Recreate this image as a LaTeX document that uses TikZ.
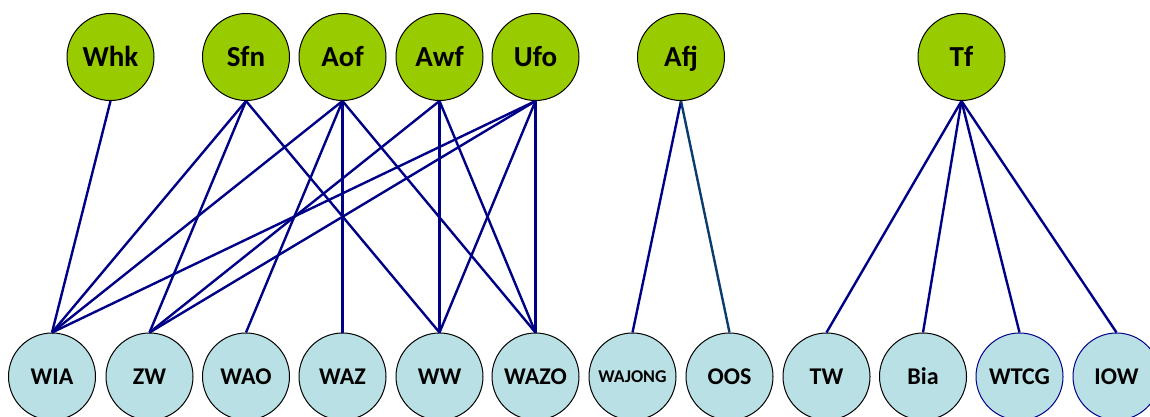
\documentclass[tikz,border=0pt]{standalone}
\usepackage{fontspec}
\setmainfont{Carlito}
\definecolor{topgreen}{RGB}{153,204,0}
\definecolor{botblue}{RGB}{185,224,228}
\definecolor{edgenavy}{RGB}{0,0,135}
\definecolor{edgeteal}{RGB}{10,60,110}
\tikzset{
  topnode/.style={circle,draw=black,line width=1pt,fill=topgreen,minimum size=87pt,inner sep=0pt,text height=19pt,text depth=0pt,font=\bfseries\fontsize{29}{30}\selectfont},
  botnode/.style={circle,draw=black,line width=1pt,fill=botblue,minimum size=87pt,inner sep=0pt,text height=15.5pt,text depth=0pt,font=\bfseries\fontsize{24}{26}\selectfont},
  botnodeblue/.style={botnode,draw=edgenavy},
  link/.style={draw=edgenavy,line width=2.4pt},
}
\begin{document}
\begin{tikzpicture}[x=1pt,y=-1pt]
\useasboundingbox (0,0) rectangle (1150,416);
% top nodes
\node[topnode] (whk) at (110.5,57) {Whk};
\node[topnode] (sfn) at (246,57) {Sfn};
\node[topnode] (aof) at (342.5,57) {Aof};
\node[topnode] (awf) at (439.5,57) {Awf};
\node[topnode] (ufo) at (535.5,57) {Ufo};
\node[topnode] (afj) at (681,57) {Afj};
\node[topnode] (tf) at (961.5,57) {Tf};
% bottom nodes
\node[botnode] (wia) at (52,376.5) {WIA};
\node[botnode] (zw) at (149.5,376.5) {ZW};
\node[botnode] (wao) at (246,376.5) {WAO};
\node[botnode] (waz) at (342.5,376.5) {WAZ};
\node[botnode] (ww) at (439.5,376.5) {WW};
\node[botnode] (wazo) at (535.5,376.5) {WAZO};
\node[botnode,text height=11.6pt,font=\bfseries\fontsize{18}{20}\selectfont] (wajong) at (632.5,376.5) {WAJONG};
\node[botnode] (oos) at (729.5,376.5) {OOS};
\node[botnode] (tw) at (826.5,376.5) {TW};
\node[botnode] (bia) at (923,376.5) {Bia};
\node[botnodeblue] (wtcg) at (1019.5,376.5) {WTCG};
\node[botnodeblue] (iow) at (1116.5,376.5) {IOW};
% connectors
\draw[link] (whk.south) -- (wia.north);
\draw[link] (sfn.south) -- (wia.north);
\draw[link] (sfn.south) -- (zw.north);
\draw[link] (sfn.south) -- (ww.north);
\draw[link] (aof.south) -- (wia.north);
\draw[link] (aof.south) -- (wao.north);
\draw[link] (aof.south) -- (waz.north);
\draw[link] (aof.south) -- (wazo.north);
\draw[link] (awf.south) -- (zw.north);
\draw[link] (awf.south) -- (ww.north);
\draw[link] (awf.south) -- (wazo.north);
\draw[link] (ufo.south) -- (wia.north);
\draw[link] (ufo.south) -- (zw.north);
\draw[link] (ufo.south) -- (ww.north);
\draw[link] (ufo.south) -- (wazo.north);
\draw[link] (afj.south) -- (wajong.north);
\draw[link,draw=edgeteal] (afj.south) -- (oos.north);
\draw[link] (tf.south) -- (tw.north);
\draw[link] (tf.south) -- (bia.north);
\draw[link] (tf.south) -- (wtcg.north);
\draw[link] (tf.south) -- (iow.north);
\end{tikzpicture}
\end{document}
